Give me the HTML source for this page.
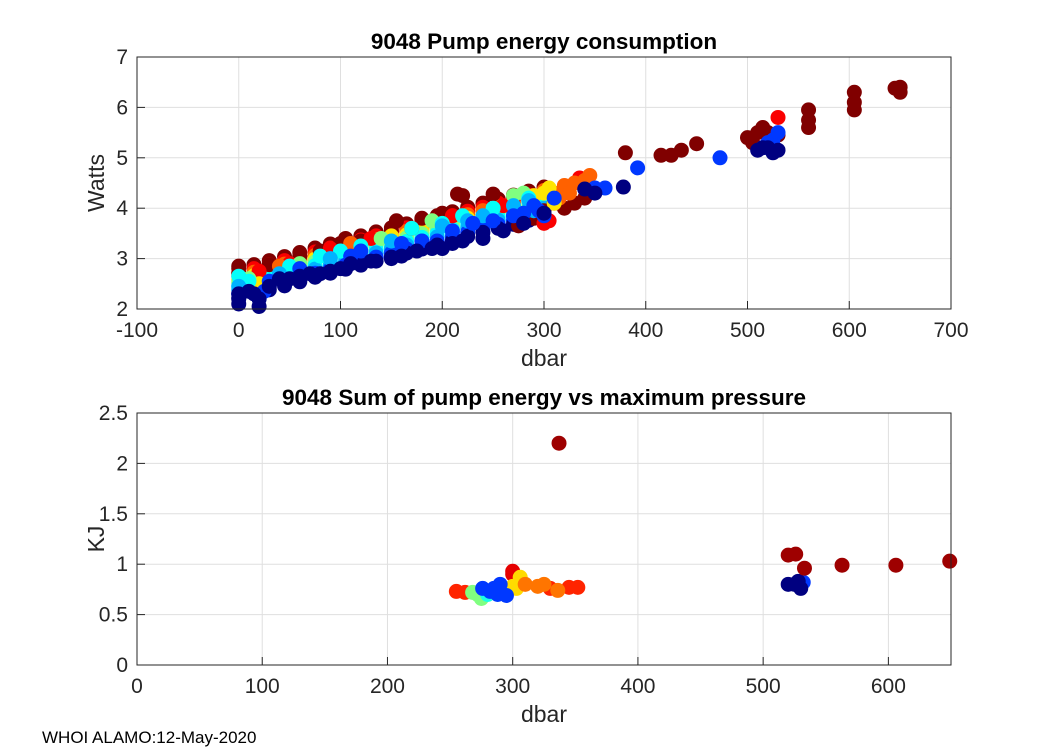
<!DOCTYPE html>
<html><head><meta charset="utf-8">
<style>
body{margin:0;background:#fff;}
svg text{font-family:"Liberation Sans",Arial,sans-serif;fill:#262626;}
</style></head>
<body>
<svg id="fig" width="1050" height="750" xmlns="http://www.w3.org/2000/svg">
<rect width="1050" height="750" fill="#fff"/>
<g id="top"></g>
<g id="bot"></g>
<text x="42" y="743" font-size="17" style="fill:#000">WHOI ALAMO:12-May-2020</text>
</svg>
<script>
// ---- top chart: dense band profiles (pressure dbar, watts) ----
const bandColors=[1.0,0.88,0.78,0.65,0.5,0.38,0.3,0.18,0.0];
const bandP=[0,15,30,45,60,75,90,105,120,135,150,165,180,195,210,225,240,255,270,285,300];
const bandW=[
[2.8,2.88,2.96,3.04,3.12,3.21,3.29,3.37,3.45,3.53,3.61,3.69,3.77,3.85,3.93,4.02,4.10,4.18,4.26,4.34,4.42],
[2.72,2.8,2.88,2.96,3.04,3.13,3.21,3.29,3.37,3.45,3.53,3.61,3.69,3.77,3.85,3.94,4.02,4.10,4.18,4.26,4.34],
[2.65,2.73,2.81,2.89,2.97,3.06,3.14,3.22,3.3,3.38,3.46,3.54,3.62,3.7,3.78,3.87,3.95,4.03,4.11,4.19,4.27],
[2.58,2.66,2.74,2.82,2.9,2.99,3.07,3.15,3.23,3.31,3.39,3.47,3.55,3.63,3.71,3.8,3.88,3.96,4.04,4.12,4.2],
[2.52,2.6,2.68,2.76,2.84,2.93,3.01,3.09,3.17,3.25,3.33,3.41,3.49,3.57,3.65,3.74,3.82,3.9,3.98,4.06,4.14],
[2.45,2.53,2.61,2.69,2.77,2.86,2.94,3.02,3.1,3.18,3.26,3.34,3.42,3.5,3.58,3.67,3.75,3.83,3.91,3.99,4.07],
[2.38,2.46,2.54,2.62,2.7,2.79,2.87,2.95,3.03,3.11,3.19,3.27,3.35,3.43,3.51,3.6,3.68,3.76,3.84,3.92,4.0],
[2.3,2.38,2.46,2.54,2.62,2.71,2.79,2.87,2.95,3.03,3.11,3.19,3.27,3.35,3.43,3.52,3.6,3.68,3.76,3.84,3.92],
[2.22,2.3,2.38,2.46,2.54,2.63,2.71,2.79,2.87,2.95,3.03,3.11,3.19,3.27,3.35,3.44,3.52,3.6,3.68,3.76,3.84]];
// ---- top chart: individual points ----
const topColors=[1.0,0.88,0.78,0.65,0.5,0.38,0.3,0.18,0.0];
const topP=[
[0,0,30,60,80,100,105,120,150,155,180,200,215,220,250,280,290,310,320,330,340,380,415,425,435,450,500,510,515,520,530,505,560,560,560,605,605,605,645,650,650,275,300],
[20,50,90,130,170,210,260,300,305,270,530,335],
[40,110,240,300,310,320,330,340,345,325,315],
[20,150,290,300,305,310,20],
[10,60,140,190,270,280,5],
[0,50,80,120,170,220,250,285,10,100,200],
[0,40,90,150,200,240,270,285,290,225],
[0,30,60,110,160,210,250,270,280,295,300,290,20,25,120,230,350,360,392,473,515,520,525,530,525,310,180],
[0,0,0,20,20,15,30,50,60,70,80,90,100,110,130,150,160,175,190,200,210,220,240,260,280,300,340,350,378,510,515,520,530,525,40,10]];
const topW=[
[2.85,2.7,2.88,3.05,3.15,3.3,3.4,3.35,3.55,3.75,3.8,3.9,4.28,4.25,4.28,3.9,3.8,4.1,4.0,4.1,4.2,5.1,5.05,5.05,5.15,5.28,5.4,5.5,5.6,5.5,5.45,5.3,5.95,5.75,5.6,6.3,6.1,5.95,6.38,6.4,6.3,3.65,3.95],
[2.75,2.9,3.2,3.4,3.6,3.85,4.05,3.7,3.75,4.2,5.8,4.6],
[2.85,3.3,3.95,4.35,4.3,4.45,4.5,4.55,4.65,4.3,4.2],
[2.5,3.45,4.25,4.3,4.4,4.1,2.3],
[2.6,2.9,3.4,3.75,4.25,4.3,2.5],
[2.65,2.85,3.05,3.25,3.6,3.85,4.0,4.2,2.55,3.15,3.7],
[2.45,2.7,3.0,3.35,3.65,3.85,4.05,4.15,3.95,3.75],
[2.3,2.55,2.8,3.05,3.3,3.55,3.75,3.85,3.9,3.95,3.85,4.05,2.2,2.35,3.15,3.7,4.4,4.4,4.8,5.0,5.2,5.3,5.35,5.5,5.15,4.2,3.35],
[2.1,2.2,2.3,2.05,2.2,2.3,2.45,2.6,2.65,2.7,2.7,2.75,2.8,2.9,2.95,3.0,3.05,3.15,3.2,3.2,3.3,3.35,3.4,3.55,3.7,3.9,4.38,4.3,4.42,5.15,5.2,5.2,5.15,5.1,2.6,2.35]];
const topXTicks=[-100,0,100,200,300,400,500,600,700];
const topYTicks=[2,3,4,5,6,7];
// ---- bottom chart data ----
const botColors=[0.84,0.9,0.66,0.76,0.5,0.4,0.18,0.0,0.97];
const botP=[[255,262,345,352,330],[300,300],[306,300,303],[320,325,336,310],[272,275,268],[280],[276,285,290,288,295,282,532,530],[525,520,530,528],[337,520,526,533,563,606,649]];
const botK=[[0.73,0.72,0.77,0.77,0.76],[0.93,0.9],[0.87,0.78,0.76],[0.78,0.8,0.74,0.8],[0.7,0.66,0.72],[0.7],[0.76,0.76,0.8,0.7,0.69,0.73,0.82,0.79],[0.8,0.8,0.76,0.83],[2.2,1.09,1.1,0.96,0.99,0.99,1.03]];
const botXTicks=[0,100,200,300,400,500,600];
const botYTicks=[0,0.5,1,1.5,2,2.5];

const NS="http://www.w3.org/2000/svg";
function jet(v){
  const r=Math.min(Math.max(Math.min(4*v-1.5,-4*v+4.5),0),1);
  const g=Math.min(Math.max(Math.min(4*v-0.5,-4*v+3.5),0),1);
  const b=Math.min(Math.max(Math.min(4*v+0.5,-4*v+2.5),0),1);
  return `rgb(${Math.round(r*255)},${Math.round(g*255)},${Math.round(b*255)})`;
}
function mk(parent,tag,attrs){const e=document.createElementNS(NS,tag);for(const k in attrs)e.setAttribute(k,attrs[k]);parent.appendChild(e);return e;}

function drawChart(g,box,xmin,xmax,ymin,ymax,xt,yt,title,ylab,groups,fmtY){
  const sx=v=>box.x+(v-xmin)/(xmax-xmin)*box.w;
  const sy=v=>box.y+box.h-(v-ymin)/(ymax-ymin)*box.h;
  mk(g,'rect',{x:box.x,y:box.y,width:box.w,height:box.h,fill:'#fff'});
  xt.forEach(t=>{
    const l=mk(g,'line',{x1:sx(t),x2:sx(t),y1:box.y,y2:box.y+box.h,stroke:'#dfdfdf','stroke-width':1});
    
    
    const tk=mk(g,'line',{x1:sx(t),x2:sx(t),y1:box.y+box.h,y2:box.y+box.h-8,stroke:'#262626'});
    
    
    const tx=mk(g,'text',{x:sx(t),y:box.y+box.h+28,'font-size':21,'text-anchor':'middle'});
    tx.textContent=t;
    
    
  });
  yt.forEach(t=>{
    const l=mk(g,'line',{x1:box.x,x2:box.x+box.w,y1:sy(t),y2:sy(t),stroke:'#dfdfdf','stroke-width':1});
    
    
    const tk=mk(g,'line',{x1:box.x,x2:box.x+8,y1:sy(t),y2:sy(t),stroke:'#262626'});
    
    
    const tx=mk(g,'text',{x:box.x-9,y:sy(t)+7,'font-size':21,'text-anchor':'end'});
    tx.textContent=fmtY(t);
    
    
  });
  const pts=mk(g,'g',{});
  
  
  groups.forEach(([colors,P,V,shared])=>{
    colors.forEach((c,i)=>{
      const ps=shared?P:P[i];
      ps.forEach((p,j)=>{
        const d=mk(pts,'circle',{cx:sx(p),cy:sy(V[i][j]),r:7.5,fill:jet(c)});
        
        
      });
    });
  });
  const fr=mk(g,'rect',{x:box.x,y:box.y,width:box.w,height:box.h,fill:'none',stroke:'#262626','stroke-width':1});
  
  
  const ti=mk(g,'text',{x:box.x+box.w/2,y:box.y-8,'font-size':22.5,'font-weight':'bold','text-anchor':'middle'});
  ti.textContent=title;
  ti.style.fill='#000';
  
  
  const xl=mk(g,'text',{x:box.x+box.w/2,y:box.y+box.h+57,'font-size':23,'text-anchor':'middle'});
  xl.textContent='dbar';
  
  
  const cy=box.y+box.h/2;
  const yl=mk(g,'text',{x:104,y:cy,'font-size':23,'text-anchor':'middle',transform:`rotate(-90 104 ${cy})`});
  yl.textContent=ylab;
  
  
}
drawChart(document.getElementById('top'),{x:137,y:57,w:814,h:252},-100,700,2,7,topXTicks,topYTicks,'9048 Pump energy consumption','Watts',[[bandColors,bandP,bandW,true],[topColors,topP,topW,false]],t=>t);
drawChart(document.getElementById('bot'),{x:137,y:413,w:814,h:252},0,650,0,2.5,botXTicks,botYTicks,'9048 Sum of pump energy vs maximum pressure','KJ',[[botColors,botP,botK,false]],t=>t);
</script>
</body></html>
